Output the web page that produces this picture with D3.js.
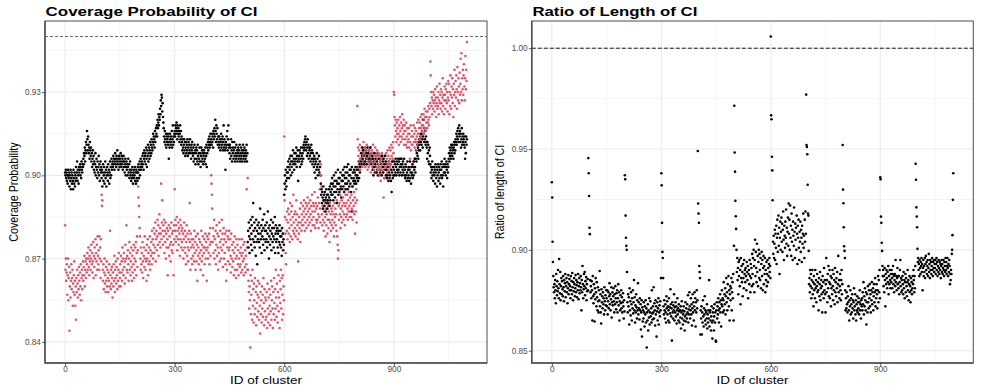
<!DOCTYPE html>
<html><head><meta charset="utf-8">
<script src="https://cdn.jsdelivr.net/npm/d3@7"></script>
<style>body{margin:0;background:#fff}svg{display:block}text{font-family:"Liberation Sans",Arial,Helvetica,sans-serif}</style>
</head><body><svg id="c" width="981" height="392"></svg>
<script>
// Coverage probability, black series (thousandths), cluster IDs 0..1100
const coverBlack = [
901,900,902,899,901,898,900,897,902,900, 899,901,896,900,898,902,895,899,901,897,
900,898,895,902,899,897,901,896,900,898, 903,899,901,905,898,902,900,897,903,901,
902,904,900,903,899,905,902,901,904,903,
906,904,908,907,910,905,909,912,908,911, 916,913,909,914,911,908,910,906,912,909,
907,910,905,908,903,906,909,904,907,902, 905,901,904,908,900,903,906,902,899,905,
901,903,907,900,904,898,902,905,901,903,
899,902,896,901,904,898,900,903,897,901, 905,899,902,896,900,903,901,898,904,900,
902,897,901,905,899,903,900,906,902,904, 905,903,907,904,906,902,905,908,904,906,
903,907,905,909,904,906,902,905,907,903,
906,904,908,905,903,907,904,906,902,905, 907,903,905,901,904,906,900,903,905,902,
904,900,903,906,901,904,899,902,905,900, 901,898,902,899,903,900,897,901,899,902,
900,903,898,901,897,902,899,901,898,903,
901,904,899,902,905,900,903,906,902,904, 905,903,907,904,908,902,906,909,905,907,
908,904,910,906,903,909,907,911,905,908, 910,906,909,912,907,911,908,913,910,909,
912,915,911,914,913,910,916,912,914,917,
915,918,914,920,917,919,922,918,921,920, 924,922,927,925,929,928,923,926,921,919,
917,914,912,916,913,911,915,910,914,912, 913,915,911,914,906,912,910,915,913,911,
914,912,916,910,913,918,911,914,912,915,
916,914,918,915,917,919,916,913,918,915, 917,914,916,912,915,918,913,916,911,914,
912,909,913,910,908,911,913,909,912,907, 910,912,908,911,909,913,907,910,912,908,
911,909,913,908,910,906,911,909,912,908,
907,910,905,908,911,906,909,904,908,910, 906,909,905,911,907,904,908,906,910,905,
908,903,907,910,905,909,906,908,904,907, 909,905,908,906,910,904,907,911,903,908,
910,912,909,913,911,914,910,912,915,911,
913,911,915,912,914,910,916,913,915,917, 914,920,916,912,918,915,913,917,911,914,
912,910,914,911,913,909,912,915,910,913, 911,914,909,912,918,910,913,911,909,902,
912,910,914,911,916,909,913,918,911,910,
908,911,906,910,913,907,909,905,912,908, 910,906,909,912,907,905,910,908,906,911,
907,909,905,908,910,906,909,907,911,905, 908,906,910,907,909,905,908,911,906,909,
907,910,905,908,906,909,907,911,905,908,
876,880,874,883,878,872,881,877,884,875, 879,882,873,885,877,890,880,876,883,874,
881,878,871,884,876,880,868,882,877,879, 883,876,881,874,888,879,877,882,872,880,
878,884,875,881,877,886,873,880,882,876,
880,877,883,874,879,887,876,881,870,878, 882,875,880,877,884,873,879,881,876,883,
878,874,881,877,885,872,879,882,876,880, 877,881,874,879,872,880,876,882,875,878,
880,874,878,871,881,876,879,873,877,875,
893,897,900,895,902,898,896,901,899,903, 901,905,903,899,906,902,904,907,900,905,
903,907,901,905,909,904,906,902,908,905, 904,908,906,910,903,907,905,909,898,906,
907,905,909,903,908,906,910,904,907,905,
908,910,906,911,909,912,910,913,914,911, 909,912,907,910,913,908,911,906,910,909,
907,910,905,908,911,906,909,904,908,906, 905,903,907,901,906,904,899,905,902,908,
903,906,900,904,902,907,901,905,903,900,
897,893,895,890,894,892,888,896,891,893, 889,894,891,887,892,895,890,893,888,891,
893,890,895,892,889,896,891,894,897,893, 895,899,893,897,891,896,900,894,898,892,
896,901,894,898,890,897,895,902,893,899,
897,894,899,895,901,896,892,898,895,900, 898,902,896,900,894,903,899,897,901,895,
899,903,897,901,895,904,898,900,896,902, 900,897,902,894,899,903,887,896,901,898,
899,902,897,901,898,903,900,897,902,899,
900,903,898,902,905,899,904,901,903,906, 905,908,904,907,910,906,909,905,908,904,
907,910,905,909,906,908,904,907,910,906, 908,905,909,906,904,907,910,905,908,906,
904,907,902,906,900,905,903,908,901,904,
906,903,907,901,905,902,908,904,900,906, 903,907,901,905,902,906,904,900,907,903,
905,901,906,903,899,904,907,902,905,900, 902,899,904,900,903,898,905,901,899,903,
900,904,898,902,894,901,905,899,903,900,
902,905,900,904,901,906,903,900,905,902, 904,901,906,902,905,900,903,906,901,904,
903,906,900,904,902,905,901,903,906,900, 902,899,904,900,903,898,901,905,899,902,
900,903,898,902,905,899,901,897,903,900,
901,904,899,903,900,905,902,906,903,901, 906,909,905,908,911,907,910,906,912,909,
911,913,909,914,912,915,911,916,913,910, 914,920,915,912,917,913,916,911,914,912,
910,906,912,908,911,905,909,904,910,907,
904,901,903,899,902,905,900,903,898,901, 903,900,902,897,904,901,899,903,896,902,
900,904,898,901,903,899,902,897,904,900, 902,905,899,903,900,896,904,901,903,906,
901,904,900,903,905,902,899,904,901,903,
906,908,905,910,907,909,906,911,908,910, 907,911,909,906,910,912,908,911,909,913,
912,915,911,914,916,913,917,912,915,918, 914,916,912,915,910,913,917,911,914,912,
915,913,911,914,910,906,912,908,914,911,913
];
// Coverage probability, red series (thousandths)
const coverRed = [
882,866,870,862,865,868,857,864,870,855, 863,867,844,860,865,856,862,868,859,863,
866,853,861,858,864,869,857,862,853,860, 848,863,858,866,861,856,864,859,867,862,
857,865,860,868,855,863,866,859,864,869,
862,867,864,871,860,866,869,863,870,865, 868,872,866,870,874,867,864,871,869,873,
866,870,875,868,872,865,869,876,863,871, 867,874,870,877,864,872,869,875,866,878,
871,868,873,866,878,870,874,863,877,869,
893,889,891,866,862,868,859,865,870,861, 864,858,867,862,869,860,866,863,858,865,
862,868,860,880,864,859,866,861,867,863, 856,865,860,868,862,871,858,866,863,869,
861,867,864,859,870,862,866,872,860,865,
863,868,860,871,865,869,862,874,866,870, 864,872,867,861,869,875,863,870,882,866,
871,865,873,868,862,870,876,866,872,864, 869,874,867,862,871,865,873,868,875,863,
870,866,874,869,876,864,872,878,867,873,
896,892,889,885,881,878,870,866,874,868, 872,865,876,869,863,871,874,867,878,870,
866,873,869,862,875,870,877,864,872,868, 874,869,878,866,873,871,876,868,880,872,
877,870,875,881,872,879,874,883,869,877,
880,873,878,884,875,882,871,879,886,876, 881,874,879,897,877,883,891,880,875,882,
878,884,872,880,876,883,870,879,874,881, 877,864,880,874,882,871,878,875,881,869,
876,883,873,879,872,880,875,864,882,877,
895,880,884,876,882,878,885,873,880,877, 883,875,881,879,871,884,877,882,874,880,
876,881,873,879,870,877,883,874,880,872, 878,868,876,882,871,879,874,869,877,873,
880,890,876,866,879,874,870,877,868,875,
871,877,874,869,880,872,876,866,878,873, 869,875,862,879,871,874,868,877,872,870,
876,866,873,880,869,875,871,878,864,874, 872,877,868,874,879,870,876,873,862,878,
874,870,877,872,879,868,875,881,871,876,
900,897,893,888,876,881,872,878,884,870, 877,873,880,868,875,882,871,879,874,866,
878,872,883,869,876,880,874,870,877,884, 873,879,867,875,881,870,877,872,879,868,
876,862,880,866,874,878,869,877,873,880,
874,868,877,871,865,879,870,875,867,873, 869,876,864,872,878,866,874,870,863,877,
871,866,875,868,873,864,870,877,867,872, 868,874,865,871,877,866,872,869,875,864,
870,876,867,873,865,871,868,895,874,866,
899,866,862,858,852,860,855,838,864,850, 857,862,848,866,853,859,847,861,855,850,
863,852,858,846,860,854,849,857,862,851, 856,848,861,853,843,858,850,855,847,860,
852,857,849,863,854,846,859,851,856,848,
855,849,858,845,861,852,847,856,850,859, 853,846,857,851,862,848,855,860,852,845,
858,850,863,854,848,859,852,866,856,849, 861,853,847,858,864,851,856,845,862,854,
859,866,852,863,848,857,864,850,860,855,
914,891,885,879,872,868,884,880,887,877, 883,888,879,886,881,876,890,884,878,887,
882,889,877,885,880,893,883,879,886,881, 887,878,884,891,880,886,882,877,869,883,
879,885,881,888,876,883,890,880,886,882,
884,889,882,887,891,885,880,888,883,890, 886,881,889,884,892,887,882,890,885,888,
883,891,886,880,889,884,893,887,882,890, 885,889,882,894,887,881,890,884,888,883,
889,884,892,886,881,890,885,895,888,883,
904,900,896,886,882,889,884,891,880,887, 883,890,885,878,888,882,886,891,879,884,
889,881,887,884,876,890,883,886,880,888, 882,887,884,889,881,886,878,883,890,885,
888,882,886,880,891,878,875,870,873,889,
884,890,886,893,881,888,885,891,883,889, 887,892,884,890,886,895,882,889,893,885,
890,886,893,888,884,891,887,894,889,885, 892,887,890,885,893,888,896,884,891,887,
889,894,886,892,879,890,887,895,883,891,
925,913,910,907,903,909,905,911,902,906, 908,904,910,906,903,909,907,912,904,908,
905,910,903,907,909,904,911,906,902,908, 906,903,909,905,910,904,907,901,908,905,
909,903,906,911,904,908,902,907,905,910,
905,901,907,903,909,900,906,902,908,904, 903,907,900,905,898,906,902,908,901,904,
906,902,892,904,899,907,903,905,900,908, 903,906,901,909,904,907,902,905,910,903,
906,909,904,911,907,905,910,906,912,908,
930,929,921,918,914,920,916,912,919,915, 917,913,920,915,911,918,914,921,916,912,
919,914,917,922,913,918,915,920,911,916, 918,913,916,911,919,914,910,917,912,915,
913,917,910,915,906,912,918,909,914,911,
916,911,914,905,918,912,915,910,917,913, 912,916,909,914,919,911,915,920,913,917,
915,919,913,921,917,914,922,918,916,920, 918,922,915,920,924,917,921,916,923,919,
921,917,923,919,925,920,918,924,921,926,
941,936,930,925,928,922,927,924,930,926, 929,923,927,931,925,928,921,926,932,924,
928,925,930,922,927,933,926,929,924,931, 926,930,923,928,935,925,929,922,927,932,
929,924,931,927,933,926,930,923,928,934,
927,933,922,930,925,936,929,924,932,928, 935,926,931,921,933,929,938,925,930,934,
928,936,931,924,939,930,927,935,932,926, 937,929,933,942,930,944,927,935,931,938,
929,936,940,932,927,935,943,931,938,934,948
];
// Ratio of length of CI (ten-thousandths)
const ratioLen = [
9335,9260,9040,8940,8870,8815,8790,8830,8760,8850, 8800,8735,8880,8820,8775,8845,8795,8900,8810,8760,
8955,8830,8785,8890,8750,8820,8860,8780,8845,8805, 8770,8870,8815,8745,8850,8795,8835,8880,8765,8820,
8860,8790,8840,8735,8810,8875,8780,8830,8855,8800,
8820,8760,8870,8800,8845,8780,8885,8815,8750,8840, 8795,8860,8830,8770,8810,8875,8790,8850,8825,8765,
8840,8800,8880,8755,8820,8860,8785,8835,8800,8870, 8815,8700,8850,8790,8920,8830,8760,8805,8880,8820,
8890,8775,8845,8810,8865,8750,8830,8795,8855,8800,
9455,9380,9267,9110,9078,8850,8790,8820,8760,8845, 8800,8650,8870,8770,8735,8830,8780,8645,8810,8755,
8860,8790,8720,8840,8765,8700,8815,8745,8690,8800, 8750,8895,8720,8780,8690,8635,8805,8740,8770,8710,
8790,8730,8760,8680,8815,8745,8700,8775,8725,8800,
8760,8720,8800,8680,8745,8790,8710,8770,8835,8730, 8780,8700,8755,8815,8665,8740,8790,8725,8770,8810,
8745,8690,8780,8730,8820,8760,8705,8785,8740,8800, 8690,8760,8830,8725,8790,8650,8745,8700,8775,8735,
8800,8710,8765,8690,8740,8785,8720,8660,8750,8695,
9370,9350,9170,9060,9020,9000,8890,8740,8690,8780, 8720,8765,8630,8810,8700,8745,8675,8790,8730,8650,
8760,8710,8800,8685,8740,8850,8700,8765,8640,8725, 8690,8780,8715,8660,8750,8700,8835,8680,8740,8710,
8655,8760,8700,8730,8605,8690,8750,8570,8715,8645,
8700,8660,8740,8690,8620,8720,8680,8750,8640,8710, 8516,8690,8650,8730,8600,8700,8665,8760,8630,8690,
8745,8670,8710,8640,8800,8685,8655,8720,8690,8815, 8660,8735,8700,8625,8750,8680,8720,8570,8695,8740,
8650,8710,8760,8630,8690,8725,8670,8745,8700,8860,
9380,9320,9134,8990,8960,8860,8720,8680,8750,8700, 8660,8730,8690,8640,8770,8710,8745,8680,8720,8650,
8700,8760,8640,8715,8685,8805,8730,8670,8710,8550, 8740,8690,8660,8725,8700,8780,8650,8715,8690,8740,
8670,8720,8635,8700,8760,8680,8710,8650,8730,8695,
8640,8700,8665,8720,8610,8690,8745,8660,8700,8630, 8680,8720,8650,8695,8600,8670,8740,8645,8710,8680,
8660,8730,8690,8775,8640,8705,8680,8790,8720,8660, 8700,8760,8680,8730,8625,8710,8780,8690,8740,8650,
8720,8790,8700,8760,8620,8740,8690,8800,8710,8750,
9490,9230,9180,9134,8920,8890,8860,8580,8700,8660, 8720,8580,8690,8640,8750,8670,8620,8710,8680,8770,
8650,8700,8630,8690,8660,8730,8610,8680,8640,8700, 8660,8850,8620,8690,8700,8650,8600,8670,8720,8640,
8560,8690,8650,8710,8600,8670,8730,8640,8690,8550,
8545,8700,8740,8660,8720,8680,8760,8700,8640,8740, 8710,8780,8690,8750,8620,8730,8800,8720,8760,8690,
8750,8840,8700,8780,8730,8810,8680,8770,8860,8740, 8790,8700,8830,8760,8870,8720,8800,8650,8780,8820,
8750,8810,8860,8700,8790,8840,8760,8880,8650,9020,
9715,9483,9388,9243,9167,9104,9000,8890,8960,8850, 8910,8780,8940,8870,8950,8820,8900,8730,8960,8860,
8920,8840,8890,8770,8930,8860,8810,8950,8880,8900, 8840,8910,8870,8800,8940,8890,8850,8920,8760,8880,
8900,8830,8950,8870,8790,8930,8860,8910,8820,8980,
8880,8960,8830,9000,8920,8790,8950,9050,8870,8990, 8910,8840,9030,8890,8970,8820,8940,9000,8860,8980,
8900,8850,8960,8810,8930,8990,8870,8950,8800,8910, 8970,8830,8920,8880,8960,8790,8900,8850,8940,8820,
8880,8950,8840,8910,8870,8930,8960,8890,8920,8860,
10058,9667,9648,9462,9394,9246,9040,8980,9070,8960, 9030,9100,8950,9080,9010,9120,8930,9060,9150,8990,
9080,9170,9020,9110,8880,9060,9140,9000,9090,9160, 9040,9130,8990,9100,9190,9050,8950,9120,9070,9010,
9140,9060,9200,9030,9110,8970,9090,9160,9020,9230,
9080,9150,9000,9220,9060,9120,8970,9180,9040,9100, 8950,9140,9070,9020,9210,9090,8960,9130,9050,9110,
9000,9170,9080,8930,9120,9060,9150,9010,8950,9090, 9040,9140,8990,9100,9060,8940,9120,9030,9080,9180,
9010,9070,8960,9150,9040,9190,9080,9770,9520,9510,
9474,9323,9180,9170,8995,8830,8860,8790,8900,8820, 8880,8760,8850,8810,8900,8780,8840,8720,8870,8800,
8830,8760,8900,8810,8850,8740,8820,8880,8790,8840, 8800,8700,8860,8770,8830,8890,8750,8810,8850,8780,
8820,8690,8870,8790,8840,8760,8910,8800,8850,8780,
8690,8830,8960,8790,8850,8740,8880,8810,8920,8770, 8840,8900,8760,8830,8870,8720,8810,8860,8780,8900,
8820,8750,8880,8800,8850,8730,8910,8790,8840,8770, 8860,8810,8890,8740,8830,8970,8790,8850,8760,8820,
8880,8800,8750,8850,8900,8780,8830,9520,9299,9231,
9112,9018,8995,8960,8800,8700,8760,8710,8790,8730, 8690,8770,8740,8820,8700,8650,8750,8720,8800,8680,
8760,8730,8690,8780,8710,8750,8660,8740,8810,8700, 8720,8780,8680,8750,8650,8730,8700,8770,8690,8740,
8710,8760,8680,8740,8800,8700,8730,8660,8750,8720,
8760,8700,8790,8730,8840,8680,8770,8720,8810,8750, 8700,8790,8630,8740,8780,8690,8820,8740,8710,8800,
8760,8830,8720,8780,8690,8800,8750,8840,8730,8790, 8810,8700,8770,8830,8740,8790,8860,8720,8800,8760,
8830,8780,8710,8800,8870,8740,8850,8790,8900,8760,
9360,9350,9165,9134,9035,8995,8920,8870,8900,8820, 8870,8790,8910,8850,8720,8880,8830,8900,8860,8810,
8890,8840,8920,8780,8870,8830,8900,8850,8810,8880, 8840,8900,8860,8810,8880,8920,8830,8870,8790,8850,
8880,8820,8950,8840,8870,8800,8860,8910,8830,8870,
8810,8870,8780,8840,8900,8950,8820,8860,8790,8850, 8800,8870,8830,8780,8890,8810,8850,8760,8840,8880,
8790,8860,8820,8770,8840,8900,8800,8850,8750,8830, 8870,8790,8820,8740,8860,8800,8840,8780,8810,8870,
8830,8900,8850,8790,8870,8810,8920,9427,9348,9211,
9165,9112,9005,8940,8960,8900,8930,8870,8950,8910, 8880,8940,8920,8960,8890,8930,8800,8910,8950,8870,
8920,8890,8960,8860,8930,8970,8900,8940,8880,8920, 8950,8870,8910,8980,8890,8930,8860,8950,8900,8940,
8880,8920,8960,8900,8870,8940,8910,8950,8890,8930,
8910,8950,8880,8930,8960,8900,8940,8870,8920,8890, 8950,8910,8880,8940,8900,8930,8860,8920,8950,8890,
8930,8880,8910,8950,8900,8870,8940,8920,8890,8960, 8900,8940,8880,8920,8960,8910,8870,8930,8890,8950,
8920,8830,8880,8850,8900,8880,8980,9000,9073,9248,9380
];

const idTicks = [0, 300, 600, 900];
const idMinor = [150, 450, 750, 1050];
const coverTicks = [0.84, 0.87, 0.90, 0.93];
const coverMinor = [0.855, 0.885, 0.915, 0.945];
const ratioTicks = [0.85, 0.90, 0.95, 1.00];
const ratioMinor = [0.875, 0.925, 0.975];
const coverTarget = 0.95;
const ratioTarget = 1.00;
const seriesColors = {black: "#000000", red: "#DF536B"};

const svg = d3.select("#c");
svg.append("rect").attr("width", 981).attr("height", 392).attr("fill", "#fff");

function panel(opt) {
  const g = svg.append("g");
  const x = d3.scaleLinear().domain([-55, 1155]).range([opt.l, opt.r]);
  const y = d3.scaleLinear().domain(opt.yd).range([opt.b, opt.t]);
  g.selectAll(null).data(idMinor).join("line")
    .attr("x1", d => x(d)).attr("x2", d => x(d)).attr("y1", opt.t).attr("y2", opt.b)
    .attr("stroke", "#EBEBEB").attr("stroke-width", 0.55);
  g.selectAll(null).data(opt.ym).join("line")
    .attr("y1", d => y(d)).attr("y2", d => y(d)).attr("x1", opt.l).attr("x2", opt.r)
    .attr("stroke", "#EBEBEB").attr("stroke-width", 0.55);
  g.selectAll(null).data(idTicks).join("line")
    .attr("x1", d => x(d)).attr("x2", d => x(d)).attr("y1", opt.t).attr("y2", opt.b)
    .attr("stroke", "#EBEBEB").attr("stroke-width", 1.1);
  g.selectAll(null).data(opt.yt).join("line")
    .attr("y1", d => y(d)).attr("y2", d => y(d)).attr("x1", opt.l).attr("x2", opt.r)
    .attr("stroke", "#EBEBEB").attr("stroke-width", 1.1);
  g.append("line").attr("x1", opt.l).attr("x2", opt.r)
    .attr("y1", y(opt.target)).attr("y2", y(opt.target))
    .attr("stroke", opt.hcol).attr("stroke-width", 0.9).attr("stroke-dasharray", opt.dash);
  g.selectAll(null).data(opt.points).join("circle")
    .attr("cx", d => x(d.id)).attr("cy", d => y(d.v)).attr("r", 1.3)
    .attr("fill", d => seriesColors[d.c]);
  g.append("rect").attr("x", opt.l).attr("y", opt.t)
    .attr("width", opt.r - opt.l).attr("height", opt.b - opt.t)
    .attr("fill", "none").attr("stroke", "#4d4d4d").attr("stroke-width", 1);
  g.append("path").attr("d", `M${opt.l},${opt.t}V${opt.b}H${opt.r}`)
    .attr("fill", "none").attr("stroke", "#4d4d4d").attr("stroke-width", 1.4);
  const ay = g.append("g").attr("transform", `translate(${opt.l},0)`)
    .call(d3.axisLeft(y).tickValues(opt.yt).tickSize(3).tickPadding(1.2).tickFormat(d3.format(".2f")));
  const ax = g.append("g").attr("transform", `translate(0,${opt.b})`)
    .call(d3.axisBottom(x).tickValues(idTicks).tickSize(3).tickPadding(0.6).tickFormat(d3.format("d")));
  [ay, ax].forEach(a => {
    a.select(".domain").remove();
    a.selectAll(".tick line").attr("stroke", "#333").attr("stroke-width", 0.8);
    a.selectAll(".tick text").attr("fill", "#4D4D4D").attr("font-size", 8.2)
      .attr("font-family", '"Liberation Sans",Arial,sans-serif');
  });
  g.append("text").attr("x", opt.l + 0.6).attr("y", 16).attr("font-size", 13)
    .attr("font-weight", "bold").attr("fill", "#000")
    .attr("textLength", opt.titleLen).attr("lengthAdjust", "spacingAndGlyphs").text(opt.title);
  g.append("text").attr("x", (opt.l + opt.r) / 2).attr("y", 384.3).attr("font-size", 10.7)
    .attr("text-anchor", "middle").attr("fill", "#000")
    .attr("textLength", 72).attr("lengthAdjust", "spacingAndGlyphs").text("ID of cluster");
  g.append("text").attr("transform", `translate(${opt.ytx},192) scale(1.25,1) rotate(-90)`)
    .attr("font-size", 10.7).attr("text-anchor", "middle").attr("fill", "#000").text(opt.ytitle);
}

const leftPts = [];
coverBlack.forEach((v, i) => {
  leftPts.push({id: i, v: v / 1000, c: "black"});
  if (i < coverRed.length) leftPts.push({id: i, v: coverRed[i] / 1000, c: "red"});
});
const rightPts = ratioLen.map((v, i) => ({id: i, v: v / 10000, c: "black"}));

panel({l: 45, r: 487, t: 21, b: 363, yd: [0.8324, 0.9556], yt: coverTicks, ym: coverMinor,
  target: coverTarget, hcol: "#555", dash: "3,2", points: leftPts,
  title: "Coverage Probability of CI", titleLen: 212, ytitle: "Coverage Probability", ytx: 17.5});
panel({l: 531.8, r: 973.3, t: 21, b: 363, yd: [0.8439, 1.0135], yt: ratioTicks, ym: ratioMinor,
  target: ratioTarget, hcol: "#000", dash: "4,2", points: rightPts,
  title: "Ratio of Length of CI", titleLen: 165, ytitle: "Ratio of length of CI", ytx: 503.5});
</script></body></html>
